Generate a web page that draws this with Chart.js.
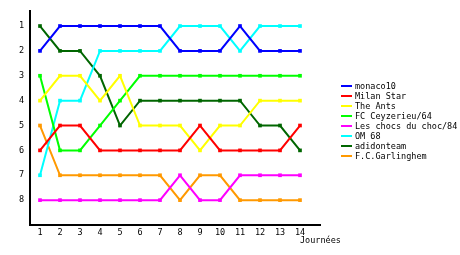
<!DOCTYPE html>
<html>
<head>
<meta charset="utf-8">
<script src="https://cdn.jsdelivr.net/npm/chart.js@4/dist/chart.umd.min.js"></script>
<style>
  html, body { margin: 0; padding: 0; background: #fff; }
  #wrap { width: 460px; height: 255px; }
</style>
</head>
<body>
<div id="wrap"><canvas id="chart"></canvas></div>
<script>
const journees = [1, 2, 3, 4, 5, 6, 7, 8, 9, 10, 11, 12, 13, 14];
const rankTicks = [1, 2, 3, 4, 5, 6, 7, 8];

const teams = ['monaco10', 'Milan Star', 'The Ants', 'FC Ceyzerieu/64',
    'Les chocs du choc/84', 'OM 68', 'adidonteam', 'F.C.Garlinghem'];
const teamColors = ['#0000ff', '#ff0000', '#ffff00', '#00ff00',
    '#ff00ff', '#00ffff', '#006600', '#ff9900'];

const monaco10   = [2, 1, 1, 1, 1, 1, 1, 2, 2, 2, 1, 2, 2, 2];
const milanStar  = [6, 5, 5, 6, 6, 6, 6, 6, 5, 6, 6, 6, 6, 5];
const theAnts    = [4, 3, 3, 4, 3, 5, 5, 5, 6, 5, 5, 4, 4, 4];
const ceyzerieu  = [3, 6, 6, 5, 4, 3, 3, 3, 3, 3, 3, 3, 3, 3];
const chocs      = [8, 8, 8, 8, 8, 8, 8, 7, 8, 8, 7, 7, 7, 7];
const om68       = [7, 4, 4, 2, 2, 2, 2, 1, 1, 1, 2, 1, 1, 1];
const adidonteam = [1, 2, 2, 3, 5, 4, 4, 4, 4, 4, 4, 5, 5, 6];
const garlinghem = [5, 7, 7, 7, 7, 7, 7, 8, 7, 7, 8, 8, 8, 8];

const series = [monaco10, milanStar, theAnts, ceyzerieu, chocs, om68, adidonteam, garlinghem];

const FONT = '"DejaVu Sans Mono", monospace';
const SIZE = 8.5;

const datasets = series.map((vals, i) => ({
    label: teams[i],
    data: vals.map((v, j) => ({ x: journees[j], y: v })),
    borderColor: teamColors[i],
    backgroundColor: teamColors[i],
    borderWidth: 2,
    pointStyle: 'rect',
    pointRadius: 2.6,
    pointBorderWidth: 0,
    tension: 0
}));

// legend + axis title drawn by hand, to sit where the original has them
const extras = {
    id: 'extras',
    afterDraw(chart) {
        const ctx = chart.ctx;
        ctx.save();
        ctx.font = SIZE + 'px ' + FONT;
        ctx.textBaseline = 'middle';
        chart.data.datasets.forEach((ds, i) => {
            const y = 86 + i * 10;
            ctx.fillStyle = ds.borderColor;
            ctx.fillRect(341, y - 1, 11, 2);
            ctx.fillStyle = '#000';
            ctx.fillText(ds.label, 355, y + 1);
        });
        ctx.fillText('Journées', 300, 241);
        ctx.restore();
    }
};

new Chart(document.getElementById('chart'), {
    type: 'line',
    data: { datasets },
    options: {
        responsive: true,
        maintainAspectRatio: false,
        animation: false,
        layout: { padding: { left: 0, right: 140, top: 10, bottom: 0 } },
        plugins: { legend: { display: false }, tooltip: { enabled: false } },
        scales: {
            x: {
                type: 'linear',
                min: 0.5,
                max: 15,
                afterBuildTicks: (s) => { s.ticks = journees.map(v => ({ value: v })); },
                afterFit: (s) => { s.height = 30; },
                grid: { display: false, drawTicks: false },
                border: { display: true, color: '#000', width: 2 },
                ticks: { color: '#000', font: { family: FONT, size: SIZE }, padding: 3, maxRotation: 0, autoSkip: false }
            },
            y: {
                type: 'linear',
                reverse: true,
                min: 0.4,
                max: 9,
                afterBuildTicks: (s) => { s.ticks = rankTicks.map(v => ({ value: v })); },
                afterFit: (s) => { s.width = 30; },
                grid: { display: false, drawTicks: false },
                border: { display: true, color: '#000', width: 2 },
                ticks: { color: '#000', font: { family: FONT, size: SIZE }, padding: 6 }
            }
        }
    },
    plugins: [extras]
});
</script>
</body>
</html>
